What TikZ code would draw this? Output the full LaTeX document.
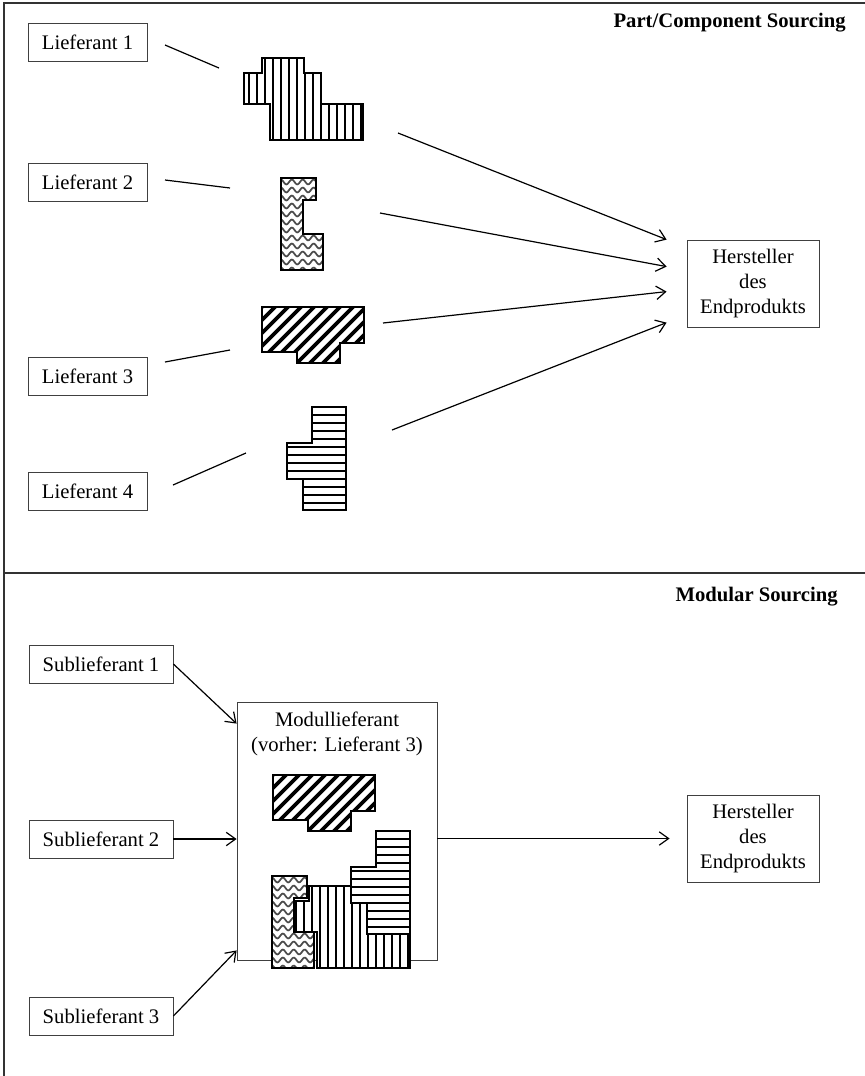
\documentclass[tikz,border=0pt]{standalone}
\usepackage{fontspec}
\setmainfont{Liberation Serif}
\usetikzlibrary{calc,positioning,arrows.meta}
\tikzstyle{supplier} = [rectangle, minimum width=89.25pt, minimum height=28.5pt, inner sep=0, text centered, draw=black!75, line width=0.6pt]
\tikzstyle{subsupplier} = [supplier, minimum width=108pt]
\tikzstyle{maker}    = [rectangle, minimum width=99pt, minimum height=65.25pt, align=center, draw=black!75, line width=0.6pt]
\tikzstyle{arrow}    = [line width=0.9pt, -{Straight Barb[length=7pt,width=10pt]}]
\tikzstyle{link}     = [line width=0.9pt]
\tikzstyle{frame}    = [line width=1.1pt, draw=black!80]
\tikzstyle{heading}  = [font=\fontsize{15.5}{18.75}\selectfont\bfseries, anchor=east, inner sep=0]
\tikzstyle{outline}  = [line width=0.8pt]
\tikzstyle{vstripe}  = [line width=1.5pt]
\tikzstyle{dstripe}  = [line width=2.7pt]
\tikzstyle{wstripe}  = [line width=1.3pt, black!70]

% the four parts (pixel coordinates of the upper row)
\def\vertpath{(244,73) -- (262,73) -- (262,58) -- (304,58) -- (304,73) -- (321,73) -- (321,104) -- (363,104) -- (363,140) -- (270,140) -- (270,104) -- (244,104) -- cycle}
\def\wavepath{(281,178) -- (316,178) -- (316,200) -- (303,200) -- (303,234) -- (323,234) -- (323,270) -- (281,270) -- cycle}
\def\diagpath{(262,307) -- (364,307) -- (364,343) -- (340,343) -- (340,363) -- (297,363) -- (297,352) -- (262,352) -- cycle}
\def\horzpath{(312,407) -- (346,407) -- (346,510) -- (303,510) -- (303,479) -- (287,479) -- (287,443) -- (312,443) -- cycle}

\newcommand{\vertpart}[1]{%
  \begin{scope}[shift={#1}]
    \fill[white] \vertpath;
    \begin{scope}
      \clip \vertpath;
      \foreach \x in {249,257,...,361} \draw[vstripe] (\x,50) -- (\x,150);
    \end{scope}
    \draw[outline] \vertpath;
  \end{scope}}
\newcommand{\wavepart}[1]{%
  \begin{scope}[shift={#1}]
    \fill[white] \wavepath;
    \begin{scope}
      \clip \wavepath;
      \foreach \yy in {182,190,...,274} \draw[wstripe] plot[domain=276:328, samples=60, smooth] (\x,{\yy+2.4*sin(33*\x)});
    \end{scope}
    \draw[outline] \wavepath;
  \end{scope}}
\newcommand{\diagpart}[1]{%
  \begin{scope}[shift={#1}]
    \fill[white] \diagpath;
    \begin{scope}
      \clip \diagpath;
      \foreach \x in {150,163,...,380} \draw[dstripe] (\x,380) -- ++(100,-100);
    \end{scope}
    \draw[outline] \diagpath;
  \end{scope}}
\newcommand{\horzpart}[1]{%
  \begin{scope}[shift={#1}]
    \fill[white] \horzpath;
    \begin{scope}
      \clip \horzpath;
      \foreach \y in {415,423,...,507} \draw[vstripe] (280,\y) -- (350,\y);
    \end{scope}
    \draw[outline] \horzpath;
  \end{scope}}

\begin{document}
\begin{tikzpicture}[x=0.75pt, y=-0.75pt, font=\fontsize{15.5}{18.75}\selectfont]
    \useasboundingbox (0,0) rectangle (865,1076);

    % frame
    \draw[frame] (4,1076) -- (4,3) -- (865,3);
    \draw[frame] (4,573) -- (865,573);
    \node (head1) [heading] at (846,23) {Part/Component Sourcing};
    \node (head2) [heading] at (838,597) {Modular Sourcing};

    % part/component sourcing
    \node (lief1) [supplier] at (87.5,42) {Lieferant 1};
    \node (lief2) [supplier] at (87.5,182) {Lieferant 2};
    \node (lief3) [supplier] at (87.5,376) {Lieferant 3};
    \node (lief4) [supplier] at (87.5,491) {Lieferant 4};
    \node (herst1) [maker] at (753,283.5) {Hersteller\\des\\Endprodukts};

    \vertpart{(0,0)}
    \wavepart{(0,0)}
    \diagpart{(0,0)}
    \horzpart{(0,0)}

    \coordinate (out1) at (165,45);
    \coordinate (out2) at (165,180);
    \coordinate (out3) at (165,362);
    \coordinate (out4) at (173,485);
    \coordinate (part1) at (219,68);
    \coordinate (part2) at (230,188);
    \coordinate (part3) at (230,350);
    \coordinate (part4) at (246,453);
    \draw [link] (out1) -- (part1);
    \draw [link] (out2) -- (part2);
    \draw [link] (out3) -- (part3);
    \draw [link] (out4) -- (part4);

    \coordinate (from1) at (398,133);
    \coordinate (from2) at (380,213);
    \coordinate (from3) at (383,323);
    \coordinate (from4) at (392,430);
    \coordinate (to1) at ($(herst1.north west)+(-20,0)$);
    \coordinate (to2) at ($(herst1.north west)+(-20,27)$);
    \coordinate (to3) at ($(herst1.north west)+(-20,52)$);
    \coordinate (to4) at ($(herst1.north west)+(-20,83)$);
    \draw [arrow] (from1) -- (to1);
    \draw [arrow] (from2) -- (to2);
    \draw [arrow] (from3) -- (to3);
    \draw [arrow] (from4) -- (to4);

    % modular sourcing
    \node (sub1) [subsupplier] at (101,664) {Sublieferant 1};
    \node (sub2) [subsupplier] at (101,839) {Sublieferant 2};
    \node (sub3) [subsupplier] at (101,1016) {Sublieferant 3};
    \node (modul) [draw=black!75, line width=0.6pt, minimum width=150pt, minimum height=193.5pt] at (337,831) {};
    \node (modtext) [below=4pt of modul.north, align=center] {Modullieferant\\(vorher: Lieferant 3)};
    \node (herst2) [maker] at (753,838.5) {Hersteller\\des\\Endprodukts};

    \diagpart{(11,468)}
    \vertpart{(47,828)}
    \horzpart{(64,424)}
    \wavepart{(-9,698)}

    \draw [arrow] (sub1.east) -- ($(modul.north west)+(0,22)$);
    \draw [arrow] (sub2.east) -- (sub2.east -| modul.west);
    \draw [arrow] (sub3.east) -- ($(modul.south west)+(0,-10)$);
    \draw [arrow, shorten >=12.75pt] (modul.east |- herst2) -- (herst2.west);
\end{tikzpicture}
\end{document}
